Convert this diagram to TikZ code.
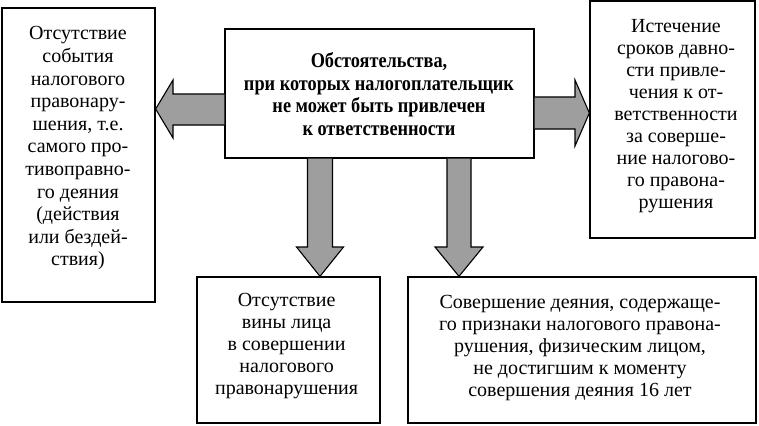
\documentclass[tikz,border=0pt]{standalone}
\usepackage{fontspec}
\setmainfont{Liberation Serif}
\newfontfamily\narrowbold[FakeStretch=0.87]{Liberation Serif Bold}
\begin{document}
\begin{tikzpicture}[x=1pt,y=-1pt,
  box/.style={draw=black,line width=1.3pt,rectangle,inner sep=0pt},
  txt/.style={inner sep=0pt,align=center,anchor=north,font=\fontsize{20}{22}\selectfont},
  btxt/.style={inner sep=0pt,align=center,anchor=north,font=\narrowbold\fontsize{21}{22.6}\selectfont},
  fat/.style={draw=black,line width=1.1pt,fill=black!38,line join=miter}]
\useasboundingbox (0,0) rectangle (759,425);
\node[box,minimum width=153pt,minimum height=294pt] (l) at (78.5,155) {};
\node[box,minimum width=309pt,minimum height=129pt] (c) at (379.5,93.5) {};
\node[box,minimum width=165pt,minimum height=237pt] (r) at (672.5,119.5) {};
\node[box,minimum width=183pt,minimum height=146pt] (b1) at (288.5,350) {};
\node[box,minimum width=348pt,minimum height=146pt] (b2) at (582,350) {};
\node[txt,font=\fontsize{20}{22.6}\selectfont] (lt) at (78,26.5) {Отсутствие\\события\\налогового\\правонару-\\шения, т.е.\\самого про-\\тивоправно-\\го деяния\\(действия\\или бездей-\\ствия)};
\node[btxt] (ct) at (379,52.3) {Обстоятельства,\\при которых налогоплательщик\\не может быть привлечен\\к ответственности};
\node[txt] (rt) at (676,19.7) {Истечение\\сроков давно-\\сти привле-\\чения к от-\\ветственности\\за соверше-\\ние налогово-\\го правона-\\рушения};
\node[txt] (b1t) at (286.6,292.7) {Отсутствие\\вины лица\\в совершении\\налогового\\правонарушения};
\node[txt] (b2t) at (580,294.7) {Совершение деяния, содержаще-\\го признаки налогового правона-\\рушения, физическим лицом,\\не достигшим к моменту\\совершения деяния 16 лет};
% left arrow
\draw[fat] (c.west |- 0,94) -- (173,94) -- (173,80) -- (l.east |- 0,109) -- (173,138) -- (173,125) -- (c.west |- 0,125);
% right arrow
\draw[fat] (c.east |- 0,97) -- (575,97) -- (575,80) -- (r.west |- 0,113) -- (575,146) -- (575,129) -- (c.east |- 0,129);
% down arrows
\draw[fat] (307.5,0 |- c.south) -- (307.5,247) -- (296.5,247) -- (320,0 |- b1.north) -- (343.5,247) -- (332.5,247) -- (332.5,0 |- c.south);
\draw[fat] (447,0 |- c.south) -- (447,247) -- (435,247) -- (459,0 |- b2.north) -- (483,247) -- (471,247) -- (471,0 |- c.south);
\end{tikzpicture}
\end{document}
